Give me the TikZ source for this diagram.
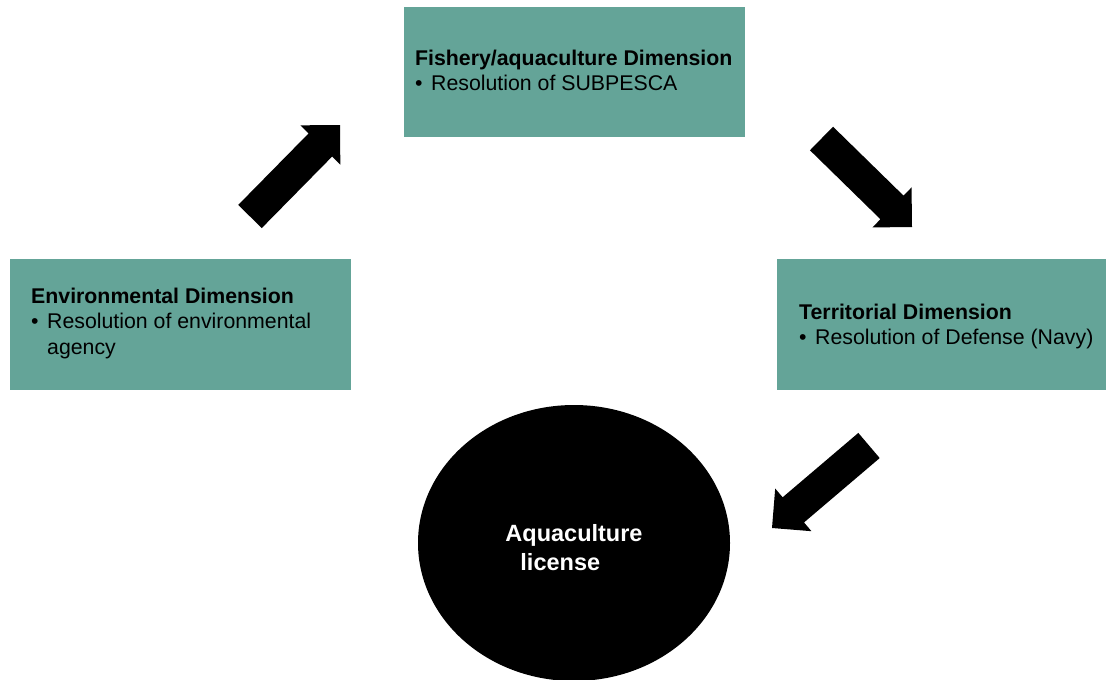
\documentclass[tikz,border=0pt]{standalone}
\usepackage{fontspec}
\setmainfont{Liberation Sans}
\usetikzlibrary{calc,shapes.geometric}
\definecolor{boxteal}{RGB}{100,164,152}
\tikzset{
  dimbox/.style={rectangle, fill=boxteal, draw=none, inner sep=0pt},
  boxtext/.style={anchor=north west, inner sep=0pt, align=left, text=black, font=\fontsize{21.3}{25.4}\selectfont},
  goal/.style={ellipse, fill=black, draw=none, inner sep=0pt, minimum width=312pt, minimum height=276pt, align=left, text=white, font=\bfseries\fontsize{23.5}{29}\selectfont},
  blockfill/.style={fill=black, draw=none}
}
\newcommand\bul{\makebox[16pt][l]{\textbullet}}
\newcommand\topstrut{\rule{0pt}{16pt}}
\newcommand\blockarrow[3]{%
  \coordinate (#1-b) at ($(#3)!28pt!(#2)$);
  \fill[blockfill] ($(#2)!16.5pt!90:(#3)$) -- ($(#1-b)!16.5pt!90:(#3)$) -- ($(#1-b)!28pt!90:(#3)$) -- (#3) -- ($(#1-b)!28pt!-90:(#3)$) -- ($(#1-b)!16.5pt!-90:(#3)$) -- ($(#2)!16.5pt!-90:(#3)$) -- cycle;}
\begin{document}
\begin{tikzpicture}[x=1pt,y=-1pt]
\useasboundingbox (0,0) rectangle (1106,680);
% boxes
\node[dimbox, minimum width=341pt, minimum height=130pt] (fish) at (574.5,72) {};
\node[dimbox, minimum width=341pt, minimum height=131pt] (env) at (180.5,324.5) {};
\node[dimbox, minimum width=329pt, minimum height=131pt] (terr) at (941.5,324.5) {};
% texts
\node[boxtext] (fishtext) at (415,49) {\topstrut\textbf{Fishery/aquaculture Dimension}\\\bul Resolution of SUBPESCA};
\node[boxtext] (envtext) at (31,287) {\topstrut\textbf{Environmental Dimension}\\\bul Resolution of environmental\\\hspace*{16pt}agency};
\node[boxtext] (terrtext) at (799,303) {\topstrut\textbf{Territorial Dimension}\\\bul Resolution of Defense (Navy)};
% goal
\node[goal] (license) at (574,543) {\rule{0pt}{27pt}Aquaculture\\\hspace*{15pt}license};
% arrows
\coordinate (a1t) at (250,216.5); \coordinate (a1h) at (340,125);
\coordinate (a2t) at (821.5,138.5); \coordinate (a2h) at (912,227);
\coordinate (a3t) at (869,445.5); \coordinate (a3h) at (772,528);
\blockarrow{a1}{a1t}{a1h}
\blockarrow{a2}{a2t}{a2h}
\blockarrow{a3}{a3t}{a3h}
\end{tikzpicture}
\end{document}
